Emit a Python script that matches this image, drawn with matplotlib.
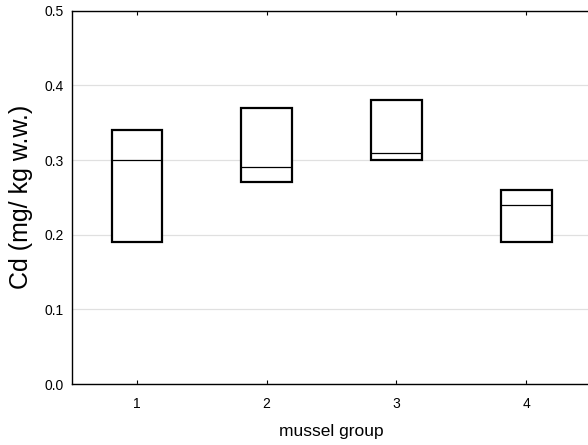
import matplotlib.pyplot as plt
import numpy as np

plt.rcParams["font.family"] = ["Liberation Sans", "DejaVu Sans"]

groups = [1, 2, 3, 4]
q_low = [0.19, 0.27, 0.30, 0.19]
q_high = [0.34, 0.37, 0.38, 0.26]
medians = [0.30, 0.29, 0.31, 0.24]
y_ticks = [0.0, 0.1, 0.2, 0.3, 0.4, 0.5]

fig = plt.figure(figsize=(5.88, 4.45), dpi=100)
ax = fig.add_axes([0.1224, 0.137, 0.883, 0.839])

x = np.array(groups)
heights = np.array(q_high) - np.array(q_low)
box_w = 0.39
ax.bar(x, heights, bottom=q_low, width=box_w, color="white",
       edgecolor="black", linewidth=1.6, zorder=3)
ax.hlines(medians, x - box_w / 2, x + box_w / 2, color="black",
          linewidth=0.9, zorder=4)

ax.set_xlim(0.5, 4.5)
ax.set_ylim(0, 0.5)
ax.set_xticks(groups)
ax.set_yticks(y_ticks)
ax.set_yticklabels([f"{v:.1f}" for v in y_ticks])
ax.yaxis.grid(True, color="#e0e0e0", linewidth=0.9, zorder=0)
ax.set_axisbelow(True)

for s in ["left", "bottom", "top"]:
    ax.spines[s].set_linewidth(1.0)
ax.spines["right"].set_visible(False)

ax.tick_params(axis="x", direction="in", length=3, top=True, labelsize=10, pad=9)
ax.tick_params(axis="y", direction="in", length=0, labelsize=10, pad=6)

ax.set_xlabel("mussel group", fontsize=12.5, labelpad=10)
ax.set_ylabel("Cd (mg/ kg w.w.)", fontsize=18, labelpad=8)

fig.savefig("out.png", dpi=100)
